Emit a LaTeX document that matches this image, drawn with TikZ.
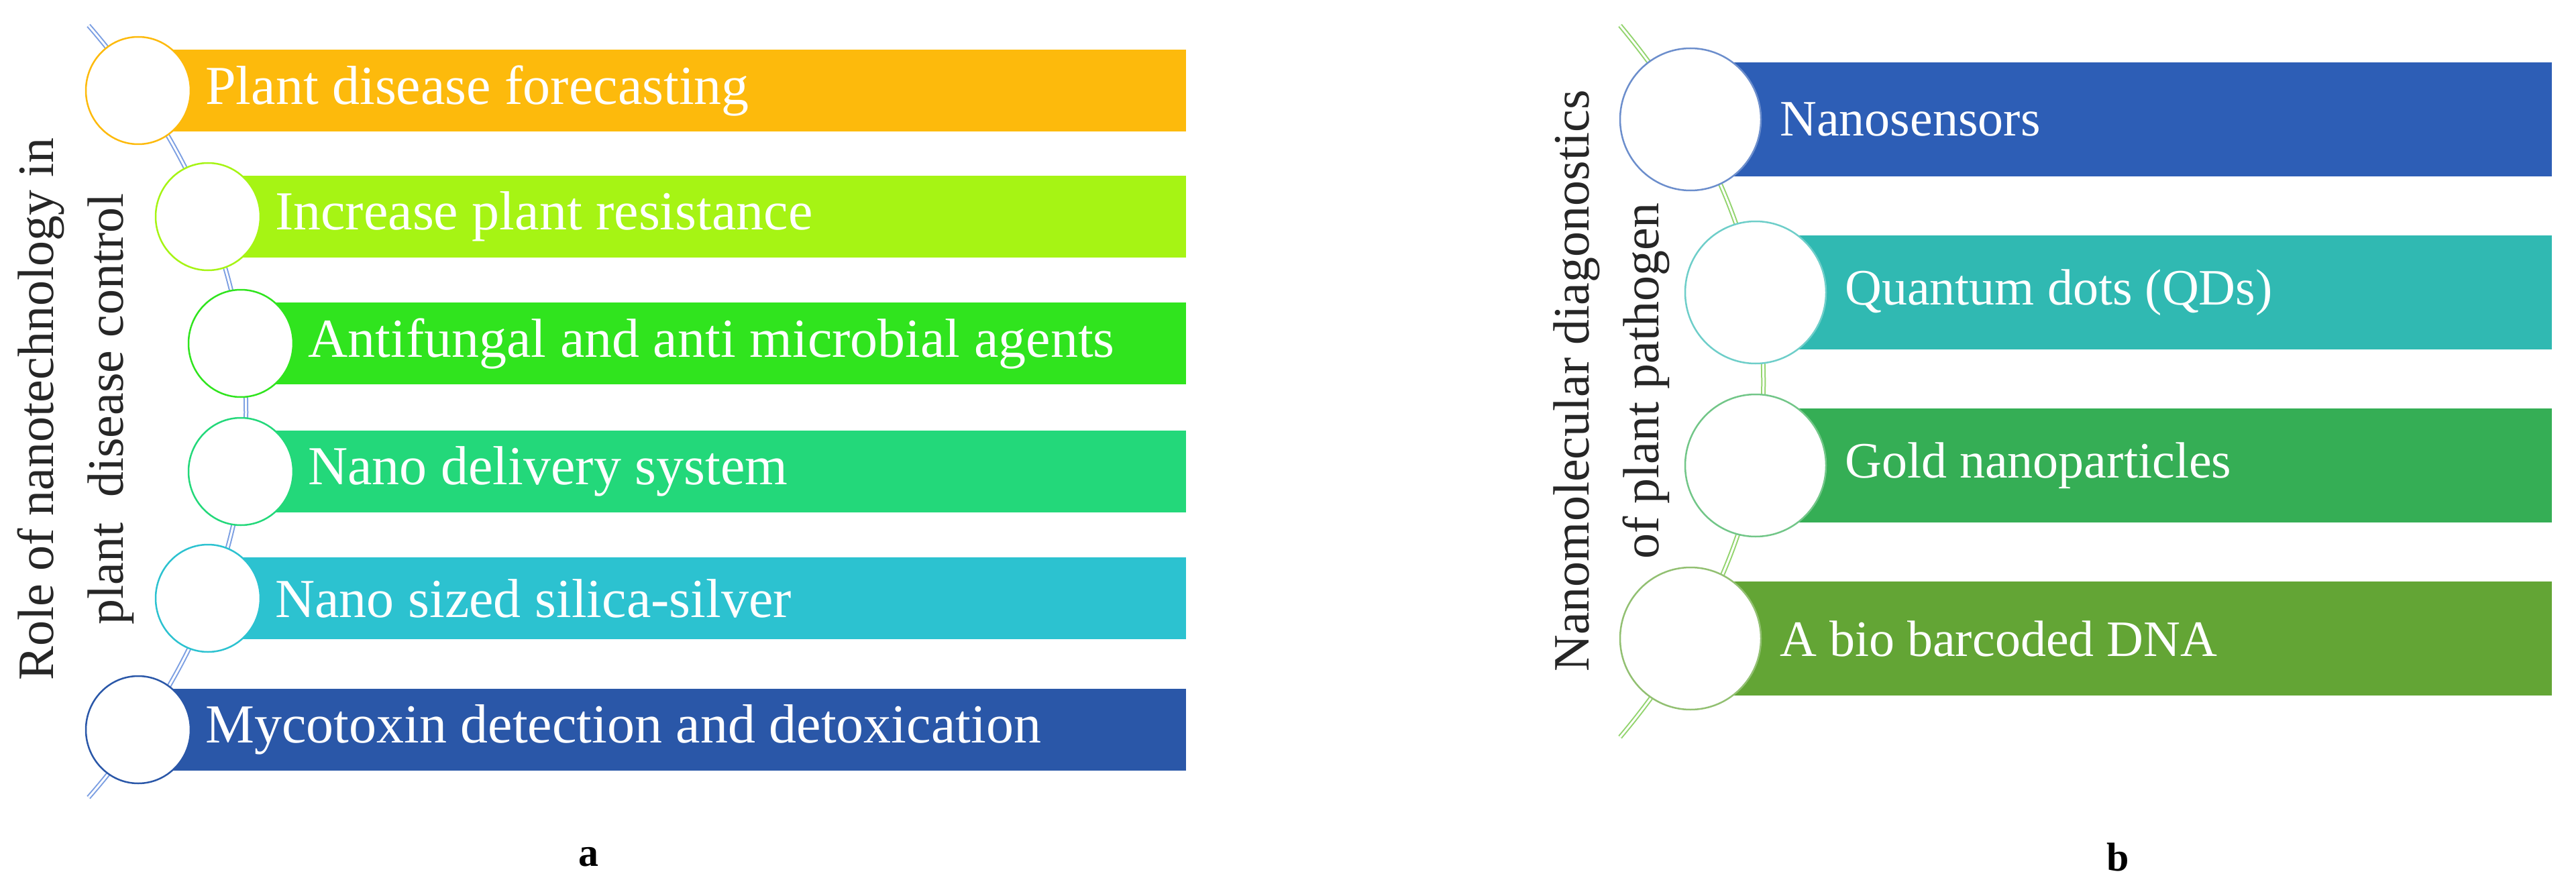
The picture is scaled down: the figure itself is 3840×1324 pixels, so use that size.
\documentclass[tikz,border=0pt]{standalone}
\usepackage{fontspec}
\setmainfont{Liberation Serif}
\definecolor{cA}{HTML}{FDBA0C}
\definecolor{cB}{HTML}{A6F414}
\definecolor{cC}{HTML}{30E41E}
\definecolor{cD}{HTML}{23D87A}
\definecolor{cE}{HTML}{2CC2D0}
\definecolor{cF}{HTML}{2A57A8}
\definecolor{dA}{HTML}{2D5EB6}
\definecolor{dB}{HTML}{30B9B2}
\definecolor{dC}{HTML}{35AE55}
\definecolor{dD}{HTML}{63A535}
\definecolor{spA}{HTML}{7C9FE2}
\definecolor{spB}{HTML}{93D46E}
\tikzset{
  bar/.style={fill=#1, draw=none},
  ring/.style={draw=#1, fill=white, line width=2.5pt, ellipse},
  btext/.style={text=white, anchor=west, font=\fontsize{82}{90}\selectfont, inner sep=0},
  btextb/.style={text=white, anchor=west, font=\fontsize{76}{84}\selectfont, inner sep=0},
  spine/.style={draw=#1, line width=2pt, double=white, double distance=3pt},
  side/.style={rotate=90, text=black!85, font=\fontsize{76}{104}\selectfont, align=center, inner sep=0},
  panel/.style={font=\fontsize{60}{66}\selectfont\bfseries, inner sep=0}
}
\usetikzlibrary{shapes.geometric}
\begin{document}
\begin{tikzpicture}[x=1pt,y=-1pt]
\useasboundingbox (0,0) rectangle (3840,1324);
% ---- panel a
\coordinate (sa1) at (132,38);
\coordinate (sa2) at (132,1189);
\draw[spine=spA] (sa1) .. controls (445,400) and (445,830) .. (sa2);
\foreach \y/\cx/\c/\t/\n in {135/206/cA/Plant disease forecasting/1,
  323/310/cB/Increase plant resistance/2,
  512/359/cC/Antifungal and anti microbial agents/3,
  703/359/cD/Nano delivery system/4,
  892/310/cE/Nano sized silica-silver/5,
  1088/206/cF/Mycotoxin detection and detoxication/6}{
  \fill[bar=\c] (\cx,\y-61) rectangle (1768,\y+61);
  \node[ring=\c, minimum width=156, minimum height=160] (ca\n) at (\cx,\y) {};
  \node[btext] (ta\n) at (\cx+100,\y) {\t};
}
\node[side] (la) at (113,610) {Role of nanotechnology in\\plant\ \ disease control};
\node[panel] (pa) at (877,1278) {a};
% ---- panel b
\coordinate (sb1) at (2415,38);
\coordinate (sb2) at (2415,1099);
\draw[spine=spB] (sb1) .. controls (2700,380) and (2700,760) .. (sb2);
\foreach \y/\cx/\c/\t/\n in {178/2520/dA/Nanosensors/1,
  436/2617/dB/Quantum dots (QDs)/2,
  694/2617/dC/Gold nanoparticles/3,
  952/2520/dD/A bio barcoded DNA/4}{
  \fill[bar=\c] (\cx,\y-85) rectangle (3804,\y+85);
  \node[ring=\c!70!white, minimum width=210, minimum height=212] (cb\n) at (\cx,\y) {};
  \node[btextb] (tb\n) at (\cx+133,\y) {\t};
}
\node[side] (lb) at (2402,568) {Nanomolecular diagonostics\\of plant pathogen};
\node[panel] (pb) at (3157,1278) {b};
\end{tikzpicture}
\end{document}
